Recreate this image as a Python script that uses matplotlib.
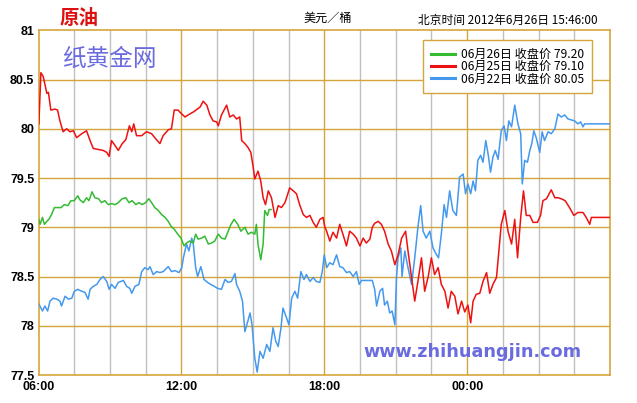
import matplotlib
matplotlib.use("Agg")
import matplotlib.pyplot as plt
from matplotlib.lines import Line2D

# ---- data (minutes after 06:00, price USD/bbl) ----
green_t = [1, 4, 10, 15, 21, 26, 33, 40, 48, 57, 65, 74, 82, 90, 99, 104, 113, 121, 127, 135,
           142, 151, 159, 167, 176, 184, 193, 201, 211, 220, 228, 236, 245, 253, 261, 270, 278,
           285, 293, 302, 310, 319, 327, 334, 342, 351, 359, 367, 373, 381, 390, 396, 402, 411,
           419, 428, 436, 444, 453, 461, 470, 478, 485, 493, 502, 510, 520, 528, 537, 545, 549,
           553, 560, 566, 570, 577, 581, 586]
green_v = [79.08, 79.03, 79.10, 79.03, 79.06, 79.08, 79.13, 79.20, 79.20, 79.20, 79.23, 79.22,
           79.27, 79.27, 79.32, 79.28, 79.25, 79.30, 79.27, 79.36, 79.30, 79.29, 79.25, 79.27,
           79.23, 79.24, 79.23, 79.25, 79.29, 79.30, 79.25, 79.27, 79.23, 79.25, 79.23, 79.25,
           79.29, 79.25, 79.20, 79.17, 79.13, 79.10, 79.06, 79.01, 78.98, 78.93, 78.89, 78.81,
           78.84, 78.86, 78.84, 78.93, 78.88, 78.89, 78.91, 78.83, 78.84, 78.86, 78.93, 78.89,
           78.88, 78.96, 79.03, 79.08, 79.03, 78.96, 79.00, 78.93, 78.95, 78.93, 79.03, 78.83,
           78.67, 78.83, 79.17, 79.12, 79.18, 79.18]

red_t = [1, 6, 12, 21, 25, 31, 42, 48, 54, 62, 71, 79, 88, 96, 109, 121, 130, 138, 151, 163,
         172, 178, 184, 193, 201, 211, 220, 229, 235, 240, 247, 260, 272, 285, 295, 306, 314,
         327, 335, 342, 352, 356, 369, 381, 390, 407, 415, 424, 432, 440, 449, 453, 461, 474,
         482, 491, 499, 507, 512, 520, 528, 535, 541, 545, 553, 560, 566, 572, 579, 587, 596,
         604, 612, 621, 629, 633, 642, 650, 658, 667, 675, 684, 692, 700, 709, 717, 721, 726,
         734, 742, 751, 759, 767, 776, 784, 793, 801, 810, 818, 826, 835, 841, 847, 856, 864,
         872, 881, 889, 898, 906, 915, 925, 931, 940, 948, 956, 965, 973, 982, 990, 998, 1007,
         1015, 1024, 1032, 1040, 1049, 1057, 1066, 1074, 1082, 1089, 1095, 1103, 1112, 1120,
         1129, 1137, 1145, 1154, 1160, 1166, 1175, 1183, 1192, 1200, 1207, 1215, 1222, 1229,
         1238, 1246, 1257, 1265, 1271, 1280, 1292, 1301, 1309, 1317, 1327, 1338, 1349, 1359,
         1372, 1380, 1389, 1393, 1440]
red_v = [80.05, 80.57, 80.53, 80.36, 80.37, 80.19, 80.20, 80.19, 80.08, 79.97, 80.00, 79.97,
         79.98, 79.91, 79.95, 79.98, 79.88, 79.80, 79.79, 79.78, 79.76, 79.72, 79.88, 79.83,
         79.78, 79.85, 79.89, 80.03, 79.97, 80.05, 79.93, 79.93, 79.97, 79.95, 79.90, 79.85,
         79.93, 79.99, 80.00, 80.19, 80.19, 80.17, 80.12, 80.15, 80.17, 80.22, 80.28, 80.24,
         80.14, 80.08, 80.07, 80.03, 80.14, 80.24, 80.12, 80.14, 80.10, 80.12, 79.88, 79.85,
         79.81, 79.76, 79.61, 79.49, 79.57, 79.47, 79.30, 79.23, 79.37, 79.30, 79.10, 79.22,
         79.20, 79.25, 79.35, 79.40, 79.37, 79.34, 79.23, 79.13, 79.10, 79.12, 79.05, 79.00,
         79.08, 79.10, 79.01, 78.96, 78.86, 78.95, 78.89, 79.03, 78.93, 78.81, 78.96, 78.93,
         78.89, 78.81, 78.89, 78.84, 78.88, 79.00, 79.04, 79.06, 79.03, 78.96, 78.83, 78.76,
         78.62, 78.72, 78.89, 78.96, 78.76, 78.49, 78.25, 78.45, 78.69, 78.35, 78.50, 78.69,
         78.52, 78.59, 78.42, 78.35, 78.18, 78.35, 78.30, 78.12, 78.25, 78.14, 78.21, 78.03,
         78.25, 78.32, 78.33, 78.45, 78.54, 78.33, 78.42, 78.49, 78.76, 79.03, 79.17, 78.96,
         78.83, 79.08, 78.69, 79.10, 79.37, 79.12, 79.12, 79.05, 79.05, 79.12, 79.27, 79.29,
         79.38, 79.30, 79.30, 79.29, 79.27, 79.20, 79.12, 79.15, 79.15, 79.10, 79.03, 79.10,
         79.10]

blue_t = [1, 10, 16, 23, 29, 37, 46, 54, 58, 67, 75, 84, 90, 99, 109, 117, 125, 130, 138, 147,
          155, 163, 172, 178, 184, 193, 201, 214, 222, 230, 235, 243, 253, 260, 268, 276, 281,
          289, 298, 306, 314, 327, 335, 344, 354, 361, 365, 373, 379, 386, 390, 396, 401, 409,
          417, 426, 434, 443, 451, 461, 470, 478, 486, 495, 499, 507, 514, 520, 527, 533, 538,
          545, 551, 558, 566, 575, 583, 591, 598, 604, 611, 616, 625, 631, 638, 646, 653, 661,
          669, 675, 684, 692, 700, 709, 715, 720, 726, 734, 742, 751, 759, 767, 776, 784, 793,
          801, 808, 814, 826, 841, 847, 852, 860, 867, 872, 879, 885, 891, 898, 902, 906, 913,
          916, 923, 931, 940, 948, 956, 963, 969, 977, 986, 994, 1003, 1008, 1015, 1022, 1028,
          1036, 1044, 1053, 1061, 1070, 1076, 1082, 1089, 1095, 1101, 1107, 1114, 1120, 1127,
          1133, 1139, 1145, 1151, 1158, 1166, 1173, 1179, 1185, 1192, 1200, 1208, 1215, 1219,
          1225, 1232, 1238, 1243, 1248, 1254, 1263, 1269, 1275, 1284, 1292, 1301, 1309, 1317,
          1326, 1334, 1343, 1351, 1359, 1366, 1372, 1376, 1440]
blue_v = [78.22, 78.15, 78.20, 78.15, 78.25, 78.28, 78.27, 78.25, 78.20, 78.30, 78.27, 78.28,
          78.35, 78.37, 78.35, 78.34, 78.27, 78.37, 78.40, 78.42, 78.47, 78.50, 78.45, 78.37,
          78.42, 78.38, 78.44, 78.46, 78.40, 78.38, 78.33, 78.40, 78.42, 78.55, 78.59, 78.57,
          78.60, 78.52, 78.55, 78.54, 78.55, 78.60, 78.55, 78.56, 78.54, 78.59, 78.69, 78.83,
          78.76, 78.89, 78.83, 78.59, 78.50, 78.60, 78.47, 78.44, 78.42, 78.40, 78.38, 78.37,
          78.47, 78.44, 78.45, 78.53, 78.42, 78.35, 78.25, 77.94, 78.04, 78.13, 78.01, 77.67,
          77.53, 77.74, 77.67, 77.81, 77.74, 77.98, 77.84, 77.79, 77.98, 78.18, 78.08, 78.01,
          78.28, 78.35, 78.28, 78.55, 78.47, 78.52, 78.45, 78.49, 78.45, 78.44, 78.55, 78.72,
          78.59, 78.64, 78.62, 78.72, 78.60, 78.59, 78.54, 78.55, 78.50, 78.55, 78.42, 78.46,
          78.46, 78.46, 78.37, 78.20, 78.35, 78.38, 78.21, 78.25, 78.13, 78.15, 78.01, 78.49,
          78.69, 78.79, 78.50, 78.76, 78.59, 78.42, 78.69, 79.00, 79.22, 78.96, 78.89, 78.96,
          78.79, 78.72, 78.69, 78.93, 79.23, 79.10, 79.37, 79.17, 79.12, 79.51, 79.54, 79.34,
          79.44, 79.34, 79.47, 79.37, 79.68, 79.73, 79.66, 79.88, 79.74, 79.56, 79.71, 79.78,
          79.69, 79.98, 80.03, 79.88, 80.08, 80.02, 80.24, 80.05, 79.95, 79.44, 79.68, 79.66,
          79.78, 79.85, 79.98, 79.91, 79.76, 79.97, 79.88, 79.97, 79.95, 80.00, 80.15, 80.12,
          80.14, 80.10, 80.09, 80.08, 80.05, 80.07, 80.02, 80.05, 80.05]

legend_labels = ["06月26日 收盘价 79.20", "06月25日 收盘价 79.10", "06月22日 收盘价 80.05"]
y_ticks = [77.5, 78, 78.5, 79, 79.5, 80, 80.5, 81]
y_ticklabels = ["77.5", "78", "78.5", "79", "79.5", "80", "80.5", "81"]
x_ticks = [0, 360, 720, 1080]
x_ticklabels = ["06:00", "12:00", "18:00", "00:00"]

GOLD = "#d4a53c"
GRAY = "#c0c0c0"
GREEN = "#33bb33"
RED = "#ee1111"
BLUE = "#4499ee"
CJK = ["Noto Sans CJK SC", "DejaVu Sans"]

fig = plt.figure(figsize=(6.37, 4.03), dpi=100)
fig.patch.set_facecolor("white")
ax = fig.add_axes([38.5 / 637, 1 - 375 / 403, 571.5 / 637, 344.7 / 403])
ax.set_xlim(0, 1440)
ax.set_ylim(77.5, 81)

# grid
for m in range(90, 1440, 90):
    if m % 360 == 0:
        ax.axvline(m, color=GOLD, lw=1.0, zorder=1)
    else:
        ax.axvline(m, color=GRAY, lw=1.0, zorder=0.5)
for v in y_ticks[1:-1]:
    ax.axhline(v, color=GOLD, lw=1.0, zorder=1)
for s in ax.spines.values():
    s.set_color(GOLD)
    s.set_linewidth(1.2)

ax.plot(blue_t, blue_v, color=BLUE, lw=1.1, zorder=3)
ax.plot(red_t, red_v, color=RED, lw=1.1, zorder=3)
ax.plot(green_t, green_v, color=GREEN, lw=1.1, zorder=4)

ax.set_yticks(y_ticks)
ax.set_yticklabels(y_ticklabels, fontsize=9, fontweight="bold", family="Liberation Sans")
ax.set_xticks(x_ticks)
ax.set_xticklabels(x_ticklabels, fontsize=9, fontweight="bold", family="Liberation Sans")
ax.tick_params(length=0, pad=4)
ax.tick_params(axis="y", pad=3)

handles = [Line2D([], [], color=c, lw=2.2) for c in (GREEN, RED, BLUE)]
leg = ax.legend(handles, legend_labels, loc="upper right",
                bbox_to_anchor=(0.9685, 0.972), borderaxespad=0,
                prop={"family": CJK, "size": 8.7}, frameon=True, fancybox=False,
                handlelength=2.0, handletextpad=0.5, labelspacing=-0.05,
                borderpad=0.65)
leg.get_frame().set_edgecolor(GOLD)
leg.get_frame().set_linewidth(1.0)
leg.get_frame().set_facecolor("white")
leg.get_frame().set_alpha(None)

# texts
fig.text(60 / 637, 1 - 18 / 403, "原油", color="#dd1111", fontsize=14, fontweight="bold",
         family=CJK, ha="left", va="center")
fig.text(328 / 637, 1 - 18 / 403, "美元／桶", color="black", fontsize=8.7,
         family=CJK, ha="center", va="center")
fig.text(598 / 637, 1 - 20 / 403, "北京时间 2012年6月26日 15:46:00", color="black",
         fontsize=8.5, family=CJK, ha="right", va="center")
fig.text(62 / 637, 1 - 59 / 403, "纸黄金网", color="#6b6be0", fontsize=17,
         family=CJK, ha="left", va="center")
fig.text(472 / 637, 1 - 352 / 403, "www.zhihuangjin.com", color="#6b6be0", fontsize=12.7,
         fontweight="bold", family="DejaVu Sans", ha="center", va="center")

fig.savefig("out.png", dpi=100, facecolor="white")
